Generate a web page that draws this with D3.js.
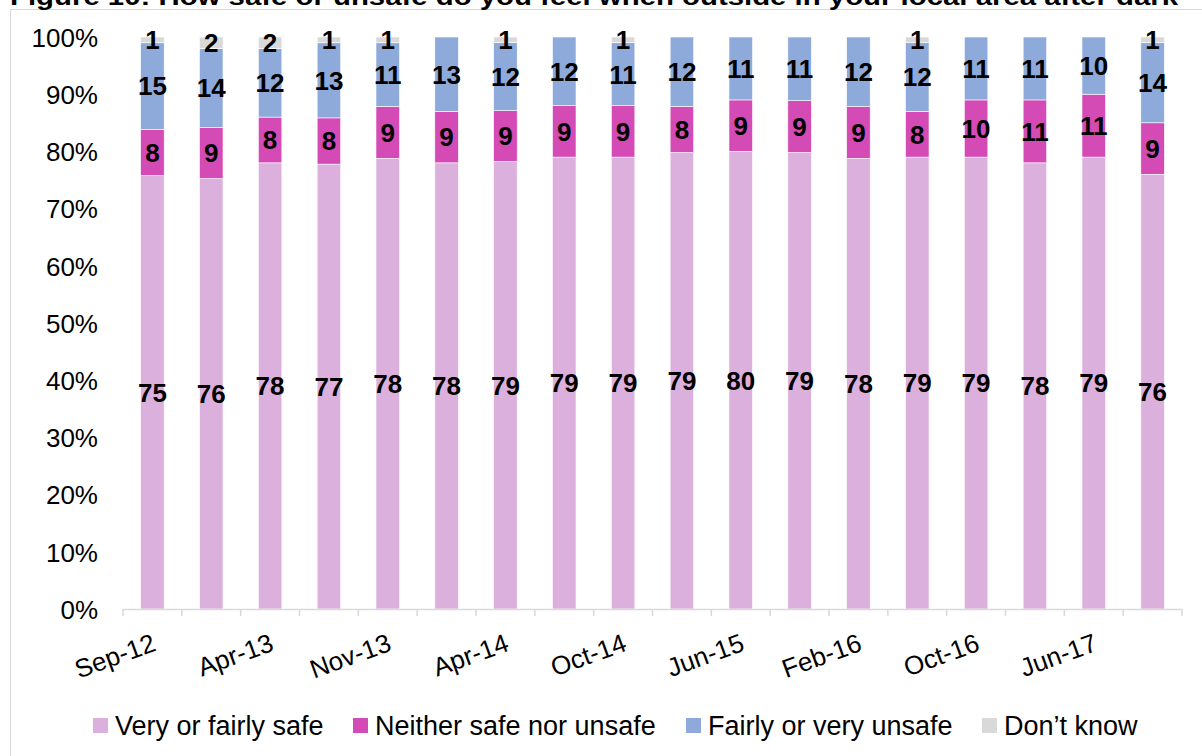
<!DOCTYPE html>
<html>
<head>
<meta charset="utf-8">
<script src="https://cdn.jsdelivr.net/npm/d3@7"></script>
<style>
  html, body { margin: 0; padding: 0; background: #fff; }
  svg { display: block; font-family: "Liberation Sans", Arial, sans-serif; }
</style>
</head>
<body>
<svg id="chart" width="1202" height="756"></svg>
<script>
// ---- Data ----
const categories = ["Sep-12","Dec-12","Apr-13","Aug-13","Nov-13","Feb-14","Apr-14","Aug-14","Oct-14","Feb-15","Jun-15","Oct-15","Feb-16","Jun-16","Oct-16","Feb-17","Jun-17","Oct-17"];
const shownLabels = ["Sep-12","Apr-13","Nov-13","Apr-14","Oct-14","Jun-15","Feb-16","Oct-16","Jun-17"];
const seriesNames = ["Very or fairly safe","Neither safe nor unsafe","Fairly or very unsafe","Don\u2019t know"];
const safe    = [75,76,78,77,78,78,79,79,79,79,80,79,78,79,79,78,79,76];
const neither = [8, 9, 8, 8, 9, 9, 9, 9, 9, 8, 9, 9, 9, 8,10,11,11, 9];
const unsafe  = [15,14,12,13,11,13,12,12,11,12,11,11,12,12,11,11,10,14];
const dontKnow= [1, 2, 2, 1, 1, 0, 1, 0, 1, 0, 0, 0, 0, 1, 0, 0, 0, 1];
const yTicks = [0,10,20,30,40,50,60,70,80,90,100];
const colors = ["#DCB0DC","#D44BB6","#8EAADB","#D9D9D9"];

// ---- Layout ----
const svg = d3.select("#chart");
const plot = {left: 123, right: 1182, top: 37, bottom: 609};

// frame
svg.append("rect").attr("x",10.5).attr("y",9.5).attr("width",1300).attr("height",900)
  .attr("fill","none").attr("stroke","#D9D9D9").attr("stroke-width",1);

// title (partly above the top edge, as in the reference)
const title = svg.append("text").attr("x",10).attr("y",5)
  .attr("font-weight","bold").attr("font-size",24).attr("fill","#000")
  .text("Figure 10: How safe or unsafe do you feel when outside in your local area after dark");
title.attr("textLength",1168).attr("lengthAdjust","spacingAndGlyphs");

const x = d3.scaleBand().domain(categories).range([plot.left, plot.right])
  .paddingInner(0.6).paddingOuter(0.3);
const y = d3.scaleLinear().domain([0,100]).range([plot.bottom, plot.top]);

// stack data (100% stacked)
const table = categories.map((c,i) => ({cat:c, s0:safe[i], s1:neither[i], s2:unsafe[i], s3:dontKnow[i]}));
const keys = ["s0","s1","s2","s3"];
const stack = d3.stack().keys(keys).offset(d3.stackOffsetExpand);
const layers = stack(table);

// Y axis labels
const yAxis = d3.axisLeft(y).tickValues(yTicks).tickFormat(d => d + "%").tickSize(0).tickPadding(0);
const gy = svg.append("g").attr("transform", `translate(98,0)`).call(yAxis);
gy.select(".domain").remove();
gy.selectAll("text").attr("font-size",26).attr("font-family","Liberation Sans, Arial, sans-serif")
  .attr("fill","#000").attr("dy","0.36em");

// bars
layers.forEach((layer, li) => {
  const g = svg.append("g");
  g.selectAll("rect").data(layer).join("rect")
    .attr("x", d => x(d.data.cat))
    .attr("width", x.bandwidth())
    .attr("y", d => y(d[1]*100))
    .attr("height", d => y(d[0]*100) - y(d[1]*100))
    .attr("fill", colors[li])
    .attr("stroke", "#ffffff").attr("stroke-width", 0.6);
});

// data labels
layers.forEach((layer, li) => {
  const key = keys[li];
  svg.append("g").selectAll("text").data(layer.filter(d => d.data[key] > 0)).join("text")
    .attr("x", d => x(d.data.cat) + x.bandwidth()/2)
    .attr("y", d => y((d[0]+d[1])/2*100))
    .attr("dy","0.36em")
    .attr("text-anchor","middle")
    .attr("font-weight","bold").attr("font-size",26).attr("fill","#000")
    .text(d => d.data[key]);
});

// X axis line + ticks at category boundaries
const gx = svg.append("g");
gx.append("line").attr("x1",plot.left).attr("x2",plot.right)
  .attr("y1",plot.bottom+0.5).attr("y2",plot.bottom+0.5)
  .attr("stroke","#D9D9D9").attr("stroke-width",1.5);
const bounds = d3.range(categories.length+1).map(i => plot.left + i*x.step());
gx.selectAll("line.tick").data(bounds).join("line").attr("class","tick")
  .attr("x1", d => d).attr("x2", d => d)
  .attr("y1", plot.bottom).attr("y2", plot.bottom+7)
  .attr("stroke","#D9D9D9").attr("stroke-width",1.5);

// X labels rotated
gx.selectAll("text").data(shownLabels).join("text")
  .attr("transform", d => `translate(${x(d)+x.bandwidth()/2+5},650) rotate(-20)`)
  .attr("text-anchor","end")
  .attr("font-size",26).attr("fill","#000")
  .text(d => d);

// legend
const legendX = [93, 353, 686, 982];
const lg = svg.append("g");
seriesNames.forEach((name,i) => {
  lg.append("rect").attr("x",legendX[i]).attr("y",718).attr("width",15).attr("height",15).attr("fill",colors[i]);
  lg.append("text").attr("x",legendX[i]+22).attr("y",735).attr("font-size",27).attr("fill","#000").text(name);
});
</script>
</body>
</html>
